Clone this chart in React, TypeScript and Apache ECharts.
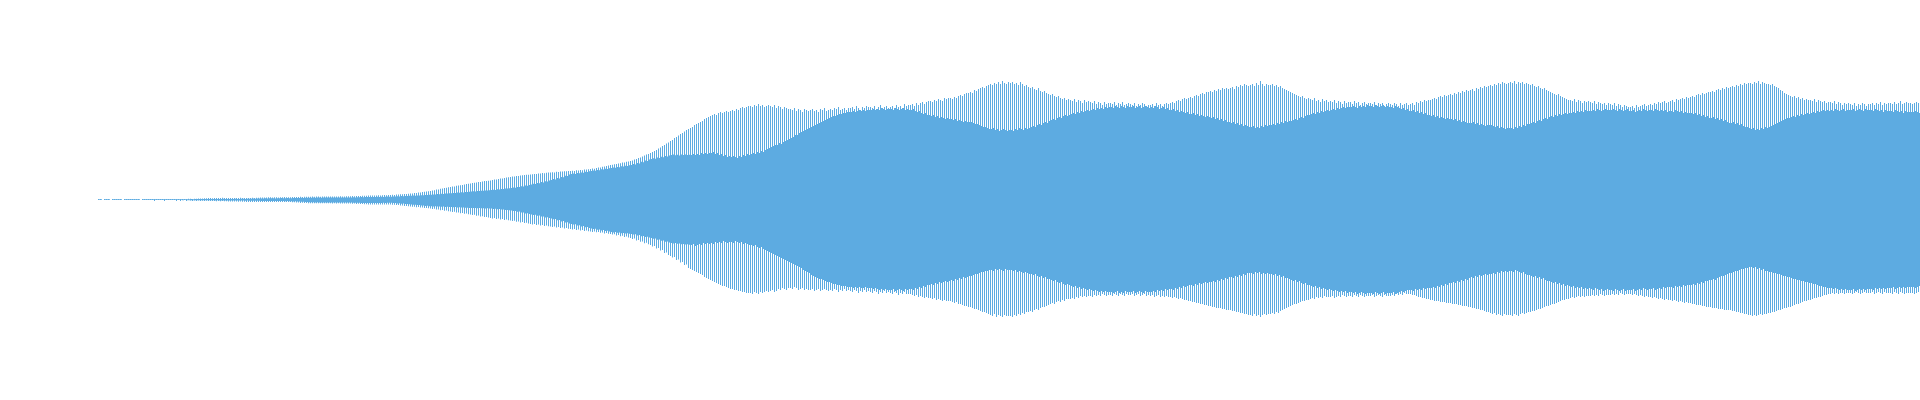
import React, { useEffect, useRef } from "react";
import * as echarts from "echarts";

// Waveform: one sample pair every 2 px, zero line at mid-height.
// topPeak / bottomPeak: outer (peak) excursion per sample; topBody / bottomBody: inner (dense) excursion.
// bottom arrays hold depth below zero (magnitudes).
const topPeak: number[] = [
1,1,0,1,1,1,0,1,1,1,
1,1,0,1,1,1,
1,1,1,1,1,0,1,1,1,1,
1,1,1,1,1,1,1,1,1,1,
1,1,1,1,1,1,1,1,1,1.2,
1.2,1,1.3,1.2,1.5,1.4,1.6,1.8,1.7,2,
2,1.8,2,2.1,1.9,2,2.2,2,1.9,2,
2,2.1,1.9,2,2,2.2,2,2.1,2,2,
2,2.2,2.1,2.3,2.2,2.4,2.5,2.4,2.6,2.7,
2.7,2.6,2.8,2.7,2.6,2.8,2.7,2.9,2.8,2.8,
2.8,3,2.9,3.1,3,3.2,3.1,3.3,3.2,3.3,
3.3,3.4,3.2,3.4,3.5,3.3,3.4,3.5,3.4,3.5,
3.5,3.6,3.4,3.6,3.5,3.7,3.6,3.5,3.7,3.7,
3.7,3.9,3.8,4,4.1,4,4.2,4.3,4.2,4.4,
4.5,4.4,4.6,4.5,4.7,4.6,4.8,4.9,4.8,5,
5,5.2,5.1,5.4,5.5,5.7,5.8,6,6.1,6.3,
6.5,6.6,7,7.1,7.5,7.6,8,8.2,8.5,8.8,
9,9.5,9.8,10.4,10.6,11.2,11.5,12,12.3,12.8,
13,13.5,13.6,14.2,14.5,14.8,15.1,15.6,16,16.2,
16.5,17,17.2,17.6,18,18.1,18.6,19,19.1,19.3,
19.5,20,20.4,20.6,21.1,21.5,21.6,22.1,22.5,22.7,
23,23.4,23.5,24,24.1,24.6,24.7,25,25.2,25.3,
25.5,25.8,26,26.1,26.5,26.6,27,26.8,27.3,27.4,
27.5,27.8,27.6,28.2,28,28.5,28.4,28.8,28.7,29,
29,29.3,29.1,29.7,29.5,30,29.8,30.4,30.6,30.8,
31,31.5,31.3,32,32.4,32.6,33.2,33.5,34,34.5,
35,35.2,35.8,36,36.5,36.7,37.4,37.6,38.2,38.5,
39,39.5,40.5,41,42,42.6,43.5,44.5,45.4,46,
47,48,49,50,51.5,52.5,54,55,56.5,57.5,
59,60,62,63,64.5,66,67,68.5,70,71,
72,73,75,76,77,78,79,81,82,83,
84,85,86,85,87,88,87,88,89,88,
89,90,89,91,90,92,93,92,93,94,
94,93,95,94,96,94,95,93,94,95,
94,93,95,92,94,93,91,93,92,91,
91,90,92,89,91,90,88,91,90,89,
90,91,89,90,88,91,90,92,89,90,
91,90,92,91,93,90,91,92,90,92,
92,93,91,94,92,90,93,92,94,93,
93,92,94,91,93,95,92,93,94,92,
93,94,92,95,93,94,92,96,94,95,
95,96,94,97,95,97,98,96,98,99,
99,98,100,99,101,100,99,102,101,102,
102,101,103,102,104,105,104,106,107,107,
108,107,110,109,111,112,113,112,114,115,
116,115,117,116,118,116,119,117,116,118,
117,118,116,117,115,118,116,114,115,113,
112,113,111,110,112,109,108,109,107,106,
105,106,104,103,104,102,101,102,100,101,
100,99,101,98,100,99,97,100,98,99,
98,97,99,96,98,97,95,98,96,97,
97,96,98,95,97,96,98,95,96,97,
96,95,97,94,96,95,97,96,94,95,
95,96,94,97,95,96,94,96,97,96,
97,98,97,99,100,99,101,102,101,102,
103,102,104,105,104,106,107,106,108,108,
109,108,110,109,111,110,112,111,112,111,
112,113,111,114,113,115,114,116,115,114,
115,116,114,117,115,119,116,114,116,115,
115,116,114,115,113,114,112,111,110,109,
108,107,106,105,104,103,104,102,101,102,
101,100,102,99,100,98,101,99,100,98,
99,98,100,97,99,98,96,99,97,98,
98,96,99,97,98,95,97,98,96,97,
97,96,98,95,97,96,97,94,96,97,
96,95,97,96,94,97,95,96,97,95,
96,97,95,98,97,99,98,100,99,100,
100,101,102,101,103,104,103,105,104,105,
106,105,107,106,108,107,109,108,110,109,
110,111,109,112,111,113,112,114,113,114,
115,114,116,115,117,116,118,117,116,117,
118,117,119,116,118,117,118,116,117,116,
115,116,114,113,114,112,111,112,110,109,
108,107,106,105,106,104,103,102,101,100,
100,99,101,98,100,99,97,99,98,99,
98,97,99,96,98,97,96,97,95,97,
96,95,97,94,96,95,93,95,94,93,
93,94,92,95,93,94,95,96,94,95,
96,95,97,96,98,97,98,99,97,98,
99,100,98,101,100,101,102,101,103,102,
103,104,103,105,106,105,107,106,107,108,
108,109,108,110,111,110,112,111,113,112,
113,114,113,115,114,116,115,117,116,117,
117,116,118,117,119,116,118,117,116,116,
115,116,114,113,112,110,109,107,106,105,
104,103,104,102,103,101,102,100,101,100,
100,99,101,98,100,99,98,99,97,98,
98,97,99,96,98,97,95,97,96,97,
96,95,97,94,96,95,97,96,94,96,
96,97,95,97,96,98,95,97,96,97,
97,96,98,96,97,99,96,97,98,97,
97,96,97,98,97
];

const topBody: number[] = [
0.8,0.8,0,0.8,0.8,0.8,0,0.8,0.8,0.8,
0.8,0.8,0,0.8,0.8,0.8,
0.8,0.8,0.8,0.8,0.8,0,0.8,0.8,0.8,0.8,
0.8,0.8,0.8,0.8,0.8,0.8,0.8,0.8,0.8,0.8,
0.8,0.8,0.8,0.8,0.8,0.8,0.8,0.8,0.8,0.8,
0.9,0.8,1,0.9,1,0.9,1.1,1,0.9,1,
1,1.1,0.9,1,1.1,1,1.2,1,0.9,1.1,
1,1.1,1.2,1,1.1,1.3,1.2,1.1,1.3,1.2,
1.3,1.4,1.3,1.5,1.4,1.6,1.5,1.7,1.6,1.7,
1.7,1.8,1.6,1.8,1.7,1.9,1.8,1.7,1.9,1.8,
1.8,2,1.9,2.1,2,2.2,2.1,2.3,2.2,2.3,
2.3,2.4,2.2,2.5,2.4,2.3,2.5,2.4,2.6,2.5,
2.5,2.4,2.6,2.5,2.4,2.6,2.5,2.6,2.4,2.5,
2.5,2.7,2.6,2.8,2.7,2.9,2.8,3,2.9,3,
3,3.1,2.9,3.2,3.1,3.3,3.1,3.2,3.4,3.3,
3.3,3.5,3.4,3.7,3.6,3.9,3.8,4.1,4,4.2,
4.2,4.4,4.3,4.6,4.5,4.8,4.7,5,5.1,5.2,
5.3,5.6,5.5,5.9,5.8,6.2,6.1,6.5,6.4,6.7,
6.8,7.1,7,7.4,7.3,7.7,7.6,8.1,8,8.3,
8.5,8.7,8.6,9,8.9,9.3,9.2,9.6,9.5,9.8,
10,10.3,10.1,10.7,10.5,11.1,10.9,11.5,11.4,11.8,
12,12.5,12.3,13.1,12.9,13.8,13.6,14.5,14.3,15.1,
15.5,16.2,15.9,17,16.8,17.9,17.6,18.8,18.5,19.6,
20,20.9,20.5,21.9,21.5,23.1,22.7,24.3,24,25.4,
26,26.4,26.1,27,26.7,27.6,27.3,28.2,27.9,28.7,
29,29.5,29.2,30.1,29.8,30.7,30.4,31.3,31,31.7,
32,32.5,32.2,33.1,32.8,33.7,33.4,34.3,34,34.7,
35,36,35.6,37,36.6,38.2,37.8,39.4,39,40.4,
41,41.7,41.3,42.5,42,43.2,42.8,44,43.6,44.6,
45,45.5,44.8,45.3,44.6,45.4,45,45.6,44.9,45.2,
45,46,45,46,45,47,46,47,46,47,
47,48,46,47,45,46,44,45,43,44,
43,44,43,42,44,43,45,44,46,45,
46,47,46,48,47,49,48,50,51,52,
53,54,55,55,57,56,58,59,60,61,
62,63,65,65,67,68,69,70,71,72,
73,74,75,76,77,78,79,80,81,82,
83,84,84,85,86,86,87,87,88,88,
88,89,88,89,90,89,90,89,90,90,
90,91,90,91,90,92,91,90,91,91,
91,90,92,91,90,91,92,90,91,90,
90,91,89,88,89,87,86,87,85,85,
84,85,83,84,82,83,82,81,82,81,
81,80,81,79,80,79,78,79,78,78,
78,77,76,76,75,74,73,73,72,71,
71,72,70,71,69,70,71,70,69,70,
70,69,71,70,72,71,70,72,71,72,
73,74,73,75,76,75,77,78,77,79,
80,81,80,82,83,82,84,85,84,85,
86,87,86,88,87,89,88,89,90,89,
90,91,90,92,91,92,91,93,92,93,
93,92,94,93,92,94,93,92,94,93,
93,94,92,93,94,92,93,94,93,92,
93,92,94,93,91,92,93,91,92,90,
90,91,89,90,88,89,88,87,88,86,
86,87,85,86,84,85,84,83,84,83,
82,83,81,82,80,81,79,80,78,78,
77,78,76,77,75,76,74,75,74,73,
73,74,72,73,72,74,73,75,74,75,
75,76,75,77,76,78,77,79,78,79,
79,80,81,80,82,83,82,84,85,85,
86,87,86,88,87,89,88,89,90,89,
90,91,90,92,91,92,93,92,93,93,
93,94,93,92,94,93,94,93,95,94,
94,93,95,94,93,94,95,93,94,93,
93,92,94,93,92,91,92,90,91,89,
89,90,88,89,87,88,86,87,85,85,
84,85,83,84,82,83,82,81,82,81,
81,80,81,79,80,78,79,78,77,77,
77,78,76,77,75,76,75,74,75,75,
75,74,73,74,72,73,72,71,72,72,
72,71,73,72,74,73,75,74,76,76,
77,78,77,79,80,79,81,82,81,83,
84,83,85,84,86,85,86,87,86,87,
87,88,87,89,88,89,88,90,89,89,
89,90,89,91,90,89,90,91,90,90,
90,91,90,89,91,90,89,90,91,89,
89,90,88,89,90,89,91,90,89,90,
90,89,91,90,89,90,89,90,88,89,
89,88,90,89,88,89,87,88,87,87,
87,86,87,85,86,84,85,83,84,82,
82,83,81,82,80,81,79,80,78,77,
77,78,76,77,75,76,74,73,73,72,
71,72,70,71,70,72,71,73,72,73,
74,75,76,77,78,79,80,81,82,82,
83,84,83,85,84,86,85,86,87,86,
87,88,87,89,88,89,90,89,90,89,
90,89,91,90,89,90,91,89,90,90,
90,91,89,90,91,90,89,91,90,90,
90,89,91,90,89,90,88,90,89,89,
89,88,90,89,88,89,87,89,88,88,
88,88,89,88,87
];

const bottomBody: number[] = [
0,0,0,0,0,0,0,0,0,0,
0,0,0,0,0,0,
0,0,0,0,0,0,0,0,0,0,
0,0,0.1,0,0.1,0,0.1,0,0.1,0.1,
0.1,0.1,0.1,0.1,0.1,0.1,0.2,0.1,0.2,0.2,
0.2,0.2,0.2,0.3,0.2,0.3,0.3,0.3,0.3,0.3,
0.3,0.3,0.4,0.3,0.4,0.4,0.4,0.5,0.4,0.5,
0.5,0.5,0.6,0.5,0.6,0.6,0.6,0.7,0.6,0.7,
0.7,0.7,0.8,0.8,0.8,0.9,0.9,0.9,1,1,
1,1,1.1,1,1.1,1.1,1.1,1.2,1.1,1.2,
1.2,1.4,1.3,1.6,1.5,1.8,1.7,2,1.9,2.2,
2.3,2.3,2.4,2.3,2.4,2.4,2.5,2.4,2.5,2.5,
2.5,2.6,2.5,2.6,2.5,2.6,2.6,2.5,2.6,2.6,
2.6,2.7,2.7,2.8,2.8,2.9,2.9,3,2.9,3,
3,3.1,2.9,3,2.9,2.9,2.8,2.9,2.8,2.8,
2.8,3.1,3,3.4,3.3,3.7,3.6,4.1,4,4.3,
4.5,4.8,4.7,5.1,5,5.5,5.4,5.9,5.8,6.2,
6.3,6.5,6.3,6.6,6.5,6.7,6.6,6.9,6.7,6.9,
7,7.2,7.1,7.4,7.3,7.6,7.5,7.8,7.7,7.9,
8,8.1,7.9,8.2,8.1,8.3,8.2,8.4,8.3,8.4,
8.5,8.9,8.7,9.2,9.1,9.6,9.4,10,9.9,10.3,
10.5,11.1,10.9,11.8,11.6,12.6,12.4,13.4,13.2,14.1,
14.5,15,14.8,15.8,15.6,16.6,16.4,17.4,17.2,18.1,
18.5,19.2,19,20.3,20,21.4,21.1,22.5,22.2,23.4,
24,24.6,24.3,25.5,25.2,26.4,26.1,27.3,27,28,
28.5,29,28.7,29.7,29.4,30.4,30.1,31.1,30.8,31.6,
32,32.4,32.1,32.8,32.5,33.2,32.9,33.6,33.3,33.8,
34,34.6,34.3,35.4,35.1,36.2,35.9,37,36.7,37.6,
38,38.8,38.4,39.8,39.4,40.8,40.4,41.8,41.4,42.5,
43,43.4,43.1,43.8,43.5,44.2,43.9,44.6,44.3,44.8,
45,44,46,45,44,45,43,44,43,44,
43,44,42,43,42,43,41,42,43,42,
42,43,41,42,43,42,44,43,44,45,
45,46,45,47,48,47,49,50,51,52,
53,54,55,56,57,58,59,60,61,62,
63,64,65,66,67,68,70,71,72,73,
75,76,77,78,79,79,80,81,82,82,
83,84,84,85,85,86,86,86,87,87,
87,88,87,88,87,88,88,87,88,88,
88,89,88,89,90,89,90,89,90,90,
90,89,91,90,89,90,91,89,90,89,
89,90,88,89,87,88,86,87,85,85,
84,85,83,84,82,83,82,81,82,81,
80,81,79,80,78,79,77,78,77,76,
76,75,74,74,73,72,72,71,71,70,
70,71,69,70,69,70,71,69,70,70,
70,71,70,72,71,72,73,72,73,74,
74,75,74,76,77,76,78,77,79,79,
80,81,80,82,83,82,84,85,84,85,
86,87,86,88,87,89,88,89,90,89,
90,91,90,91,92,91,92,91,92,92,
92,93,92,91,93,92,93,91,92,92,
92,91,93,92,91,92,93,91,92,92,
92,91,92,90,91,90,91,89,90,89,
89,90,88,89,87,88,86,87,86,85,
85,86,84,85,83,84,83,82,83,82,
82,81,82,80,81,79,80,78,79,77,
77,78,76,77,75,76,74,75,73,73,
73,74,72,73,72,74,73,74,73,74,
74,75,74,76,75,77,76,78,78,79,
80,81,80,82,81,83,84,83,85,85,
86,87,86,88,87,89,88,89,90,89,
90,91,90,91,92,91,92,91,93,92,
92,93,92,94,93,92,93,94,93,93,
93,94,92,93,94,93,92,94,93,93,
93,92,94,93,92,91,92,91,90,90,
90,91,89,90,89,90,88,89,88,88,
88,87,88,86,87,85,86,84,85,83,
83,82,83,81,82,80,81,79,80,78,
77,78,76,77,75,76,75,74,75,74,
74,73,74,72,73,71,72,71,72,71,
71,72,70,71,72,73,72,74,75,75,
76,77,76,78,77,79,78,80,81,81,
82,83,82,84,83,85,84,86,85,86,
87,86,88,87,88,87,89,88,89,88,
89,90,88,89,90,89,91,90,89,90,
90,91,89,90,91,90,89,91,90,90,
90,89,91,90,89,90,88,89,90,89,
89,88,90,89,88,89,87,88,87,87,
87,88,86,87,86,87,85,86,85,85,
85,84,85,83,84,82,83,81,81,80,
80,79,80,78,77,76,76,75,74,73,
73,72,71,71,70,69,69,68,68,67,
67,68,67,69,68,70,69,71,71,72,
72,73,73,74,74,75,76,76,77,77,
78,79,79,80,80,81,81,82,82,83,
83,84,84,85,86,86,87,87,88,88,
88,89,88,89,90,89,90,89,90,90,
90,89,91,90,89,90,89,90,89,89,
89,90,88,89,88,89,88,89,88,88,
88,87,89,88,87,88,87,88,87,87,
87,87,88,87,86
];

const bottomPeak: number[] = [
0,0,0,0,0,0,0,0,0,0,
0,0,0,0,0,0,
0,0,0,0,0,0,0,0,0,0,
0,0,1,0,0,0,0,1,0,0,
0,0,0,1,0,1,0,0,1,0,
0.5,1,0.5,1,0.6,1,0.7,1,0.8,1,
1,1.1,1,1.2,1,1.2,1.1,1.3,1.2,1.4,
1.5,1.4,1.6,1.5,1.7,1.6,1.8,1.7,1.9,1.9,
2,1.9,2,2.1,2,1.9,2,2.1,2,2,
2,2.1,1.9,2,2.1,2,1.9,2,2.1,2,
2,2.3,2.2,2.6,2.5,2.9,2.8,3.1,3,3.2,
3.2,3.3,3.2,3.3,3.2,3.3,3.3,3.2,3.3,3.3,
3.3,3.4,3.3,3.4,3.3,3.4,3.4,3.5,3.4,3.5,
3.5,3.7,3.6,3.9,3.8,4.1,4,4.3,4.2,4.4,
4.5,4.4,4.6,4.5,4.4,4.6,4.5,4.4,4.5,4.5,
4.5,4.8,4.7,5.1,5,5.5,5.4,6,5.9,6.3,
6.5,6.8,6.7,7.2,7.1,7.6,7.5,8,7.9,8.3,
8.5,9,8.8,9.6,9.4,10.2,10,10.8,10.6,11.2,
11.5,12,11.8,12.6,12.4,13.2,13,13.8,13.6,14.2,
14.5,15,14.8,15.7,15.5,16.4,16.2,17.1,16.9,17.6,
18,18.4,18.1,18.9,18.6,19.4,19.1,19.9,19.6,20.2,
20.5,21,20.7,21.7,21.4,22.4,22.1,23.1,22.8,23.6,
24,24.4,24.1,24.9,24.6,25.4,25.1,25.9,25.6,26.2,
26.5,26.9,26.6,27.4,27.1,27.9,27.6,28.4,28.1,28.7,
29,29.4,29.1,29.9,29.6,30.4,30.1,30.9,30.6,31.2,
31.5,31.9,31.6,32.3,32,32.8,32.5,33.4,33.1,33.7,
34,34.6,34.2,35.4,35,36.2,35.8,37,36.6,37.6,
38,39,38.6,40.4,40,41.8,41.4,43.2,42.8,44.3,
45,46.5,46,48.5,48,50.5,50,53,52.5,55,
56,57.5,57,60,59.5,62.5,62,65,64.5,68,
69,70,71,72,73,74,75,77,78,79,
80,81,82,83,84,85,86,86,87,88,
89,89,90,90,91,91,92,92,93,93,
93,94,92,93,94,92,93,92,91,92,
91,90,92,91,89,90,88,89,90,88,
88,89,87,88,90,89,88,90,89,90,
90,89,91,90,89,91,90,89,90,91,
90,91,89,90,92,90,91,89,91,90,
91,92,90,91,93,91,92,90,92,91,
92,93,91,92,94,92,93,91,93,92,
93,94,92,93,95,93,94,92,94,94,
94,95,96,95,97,96,97,98,97,98,
98,99,98,100,99,100,101,100,101,101,
101,102,103,102,104,104,105,106,106,107,
107,108,109,109,110,111,112,112,113,114,
115,116,114,117,115,116,117,115,116,116,
116,117,115,116,114,115,113,114,112,112,
111,112,110,109,110,108,107,107,106,105,
104,103,104,102,101,102,100,101,99,99,
99,98,99,97,98,96,97,96,97,96,
96,97,95,96,95,96,94,95,96,95,
95,96,94,95,96,94,95,96,94,95,
95,94,96,95,94,96,95,94,96,95,
96,95,97,96,95,97,96,97,96,97,
97,98,97,98,99,98,99,100,100,101,
101,102,102,103,103,104,104,105,105,106,
106,107,107,108,108,108,109,109,110,110,
110,111,111,112,112,113,113,114,114,115,
115,116,114,116,115,117,115,114,115,114,
114,113,114,112,113,111,110,109,108,107,
106,105,104,104,103,102,101,101,100,100,
99,98,99,97,98,97,98,96,97,97,
97,96,98,97,96,97,95,96,97,96,
96,97,95,96,97,95,96,97,96,96,
96,95,97,96,95,96,97,95,96,96,
96,95,96,94,95,94,95,93,94,94,
94,95,95,96,97,97,98,98,99,99,
100,100,101,101,101,102,102,102,103,103,
103,104,104,104,105,105,106,106,106,107,
107,108,108,109,109,110,110,111,112,112,
113,114,113,115,114,115,116,114,115,115,
115,116,114,115,116,114,113,114,113,112,
112,111,111,110,109,109,108,107,106,106,
105,104,104,103,102,101,100,100,99,99,
98,97,98,97,96,97,96,97,96,96,
96,95,96,95,96,94,95,96,95,95,
95,94,95,94,95,93,94,95,94,94,
94,95,94,95,96,95,96,97,96,97,
97,98,97,98,99,98,99,100,99,100,
100,101,100,101,102,101,102,103,102,103,
103,104,104,105,105,105,106,106,107,107,
107,108,108,108,109,109,109,110,110,110,
110,111,111,112,112,113,113,114,114,115,
115,116,115,116,115,114,115,114,114,113,
113,112,112,111,110,110,109,108,108,107,
107,106,105,104,104,103,102,101,101,100,
100,99,98,98,97,97,96,95,95,94,
94,93,94,93,94,93,93,94,93,93,
93,94,93,92,93,94,93,92,93,93,
93,92,94,93,92,93,94,92,93,93,
93,94,92,93,94,92,93,94,93,93,
93,93,94,93,92
];

const sampleIndex: string[] = topBody.map((_, i) => String(i));

const BLUE = "#5dabe1";

export default function App() {
  const ref = useRef<HTMLDivElement>(null);
  useEffect(() => {
    document.body.style.margin = "0";
    if (!ref.current) return;
    const chart = echarts.init(ref.current, undefined, { renderer: "svg" });
    const hiddenX = {
      type: "category" as const,
      data: sampleIndex,
      show: false,
      boundaryGap: true,
    };
    const hiddenY = { type: "value" as const, min: -200, max: 200, show: false };
    chart.setOption({
      animation: false,
      backgroundColor: "#ffffff",
      grid: [
        { left: 98, right: 0, top: 0, bottom: 0 },
        { left: 97.5, right: 0.5, top: 0, bottom: 0 },
      ],
      xAxis: [
        { ...hiddenX, gridIndex: 0 },
        { ...hiddenX, gridIndex: 1 },
      ],
      yAxis: [
        { ...hiddenY, gridIndex: 0 },
        { ...hiddenY, gridIndex: 1 },
      ],
      series: [
        {
          type: "bar",
          xAxisIndex: 1,
          yAxisIndex: 1,
          data: topPeak,
          barWidth: 1,
          barGap: "-100%",
          silent: true,
          itemStyle: { color: BLUE },
        },
        {
          type: "bar",
          xAxisIndex: 1,
          yAxisIndex: 1,
          data: bottomPeak.map((v) => -v),
          barWidth: 1,
          barGap: "-100%",
          silent: true,
          itemStyle: { color: BLUE },
        },
        {
          type: "bar",
          xAxisIndex: 0,
          yAxisIndex: 0,
          data: topBody,
          barCategoryGap: "0%",
          barGap: "-100%",
          silent: true,
          itemStyle: { color: BLUE },
        },
        {
          type: "bar",
          xAxisIndex: 0,
          yAxisIndex: 0,
          data: bottomBody.map((v) => -v),
          barCategoryGap: "0%",
          barGap: "-100%",
          silent: true,
          itemStyle: { color: BLUE },
        },
      ],
    });
    return () => chart.dispose();
  }, []);
  return (
    <div
      ref={ref}
      style={{ position: "fixed", left: 0, top: 0, width: 1920, height: 400 }}
    />
  );
}
